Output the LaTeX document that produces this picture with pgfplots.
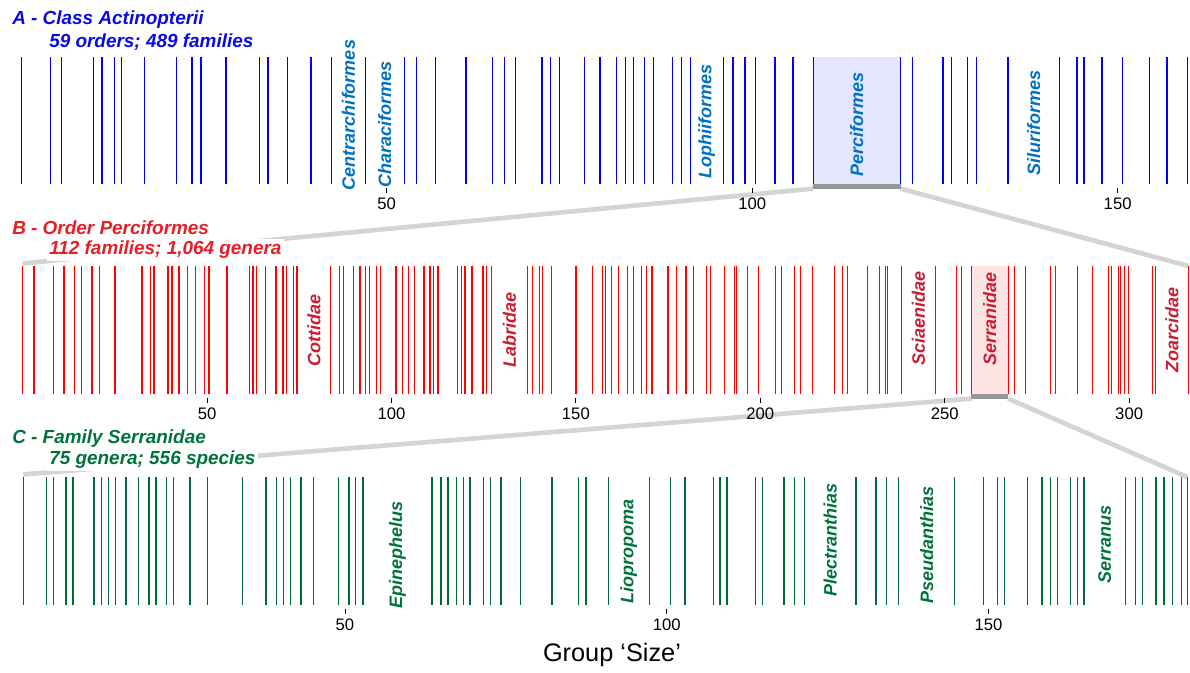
\documentclass[border=0pt]{standalone}
\usepackage{pgfplots}
\usepackage{pgfplotstable}
\pgfplotsset{compat=1.18}
\usetikzlibrary{backgrounds}
\usepackage{fontspec}
\setmainfont{Liberation Sans}

\definecolor{aline}{RGB}{0,0,255}
\definecolor{alab}{RGB}{0,112,192}
\definecolor{atitle}{RGB}{10,10,230}
\definecolor{afill}{RGB}{228,230,255}
\definecolor{bline}{RGB}{255,0,0}
\definecolor{blab}{RGB}{200,30,50}
\definecolor{btitle}{RGB}{230,30,40}
\definecolor{bfill}{RGB}{252,228,228}
\definecolor{cline}{RGB}{0,105,55}
\definecolor{clab}{RGB}{0,115,60}
\definecolor{ctitle}{RGB}{0,115,60}
\definecolor{barc}{RGB}{150,150,150}
\definecolor{conn}{RGB}{212,212,212}

\pgfplotstableread{
x y
0 1
4.04 1
5.54 1
9.86 1
11.05 1
12.79 1
13.75 1
16.89 1
21.22 1
23.37 1
24.60 1
28.02 1
32.57 1
33.76 1
36.46 1
39.64 1
42.48 1
47.07 1
52.41 1
54.05 1
56.70 1
60.85 1
64.50 1
66.14 1
67.65 1
71.24 1
72.44 1
73.61 1
77.09 1
79.18 1
81.41 1
82.64 1
83.79 1
85.24 1
86.47 1
89.12 1
90.30 1
91.53 1
96.10 1
97.37 1
99.01 1
100.48 1
103.12 1
105.58 1
108.36 1
120.31 1
121.96 1
126.10 1
127.29 1
129.48 1
130.71 1
134.99 1
142.07 1
144.43 1
145.39 1
147.85 1
150.68 1
154.38 1
156.74 1
159.58 1
}\tabA

\pgfplotstableread{
x y
0 1
3.09 1
8.43 1
11.23 1
14.02 1
15.92 1
18.82 1
20.80 1
25.05 1
32.38 1
34.73 1
35.63 1
39.43 1
40.51 1
42.41 1
44.77 1
46.83 1
49.27 1
50.54 1
55.42 1
61.58 1
62.47 1
63.48 1
65.81 1
68.71 1
70.61 1
71.61 1
73.51 1
74.40 1
83.54 1
85.87 1
87.07 1
89.67 1
91.49 1
92.92 1
94.12 1
96.01 1
97.10 1
101.25 1
103.06 1
104.69 1
106.21 1
108.84 1
110.47 1
111.36 1
112.64 1
117.98 1
118.95 1
119.96 1
121.85 1
124.84 1
125.84 1
127.09 1
136.85 1
138.21 1
140.10 1
141.03 1
143.47 1
150.05 1
154.47 1
157.29 1
158.11 1
159.73 1
161.63 1
164.07 1
165.59 1
167.87 1
169.12 1
170.66 1
175.00 1
177.36 1
179.88 1
181.86 1
185.39 1
186.47 1
190.38 1
193.09 1
193.63 1
196.61 1
199.49 1
204.20 1
205.64 1
209.35 1
210.98 1
214.13 1
220.20 1
222.26 1
223.73 1
229.15 1
232.40 1
233.84 1
234.57 1
238.26 1
247.48 1
253.17 1
254.45 1
257.24 1
267.19 1
268.82 1
271.80 1
278.77 1
279.93 1
286.09 1
289.96 1
294.31 1
295.12 1
297.02 1
297.64 1
298.73 1
299.73 1
306.32 1
307.24 1
316.08 1
}\tabB

\pgfplotstableread{
x y
0 1
3.64 1
4.72 1
6.64 1
7.72 1
10.99 1
12.12 1
13.21 1
14.36 1
15.96 1
17.94 1
19.54 1
20.62 1
22.29 1
23.38 1
25.91 1
28.66 1
34.10 1
37.72 1
39.32 1
40.41 1
41.56 1
43.16 1
45.14 1
48.96 1
50.62 1
51.66 1
52.80 1
63.52 1
64.92 1
66.01 1
67.36 1
68.45 1
69.43 1
71.49 1
72.58 1
74.25 1
77.25 1
82.17 1
86.32 1
87.46 1
90.92 1
97.30 1
100.62 1
102.84 1
107.24 1
108.29 1
109.37 1
113.83 1
114.86 1
118.23 1
119.83 1
121.39 1
129.42 1
132.53 1
134.13 1
135.99 1
144.76 1
149.27 1
151.38 1
152.53 1
156.11 1
158.33 1
159.68 1
160.77 1
162.73 1
163.82 1
164.86 1
171.28 1
172.89 1
173.98 1
176.05 1
177.29 1
178.58 1
180.04 1
180.90 1
}\tabC

\pgfplotsset{
  strip/.style={
    scale only axis, width=892.5pt, anchor=south west,
    axis line style={draw=none}, ytick=\empty,
    ymin=-0.03, ymax=1,
    tick align=outside, xtick pos=bottom,
    major tick length=3.75pt,
    tick style={black, line width=0.6pt},
    ticklabel style={font=\fontsize{12.5}{14}\selectfont},
    /pgf/number format/assume math mode=true,
    clip=false,
  },
}
\tikzset{lab/.style={rotate=90, font=\bfseries\itshape\fontsize{13.5}{15}\selectfont}}

\begin{document}
\begin{tikzpicture}[x=0.75pt,y=0.75pt]
% ---------------- A
\begin{axis}[strip, at={(0pt,363pt)}, height=98.25pt, xmin=-2.9, xmax=159.9, xtick={50,100,150}]
\addplot[fill=afill, draw=none] coordinates {(108.36,1) (120.31,1)} \closedcycle;
\addplot[ycomb, aline, line width=0.9pt, no marks] table {\tabA};
\addplot[barc, line width=3.5pt, no marks] coordinates {(108.36,-0.02) (120.31,-0.02)};
\node[lab, text=alab] at (axis cs:44.78,0.544) {Centrarchiformes};
\node[lab, text=alab] at (axis cs:49.74,0.473) {Characiformes};
\node[lab, text=alab] at (axis cs:93.8,0.489) {Lophiiformes};
\node[lab, text=alab] at (axis cs:114.3,0.473) {Perciformes};
\node[lab, text=alab] at (axis cs:138.5,0.48) {Siluriformes};
\coordinate (A1) at (axis cs:108.36,-0.035);
\coordinate (A2) at (axis cs:120.31,-0.035);
\end{axis}
% ---------------- B
\begin{axis}[strip, at={(0pt,205.5pt)}, height=99pt, xmin=-6.13, xmax=316.5, xtick={50,100,150,200,250,300}]
\addplot[fill=bfill, draw=none] coordinates {(257.24,1) (267.19,1)} \closedcycle;
\addplot[ycomb, bline, line width=0.9pt, no marks] table {\tabB};
\addplot[barc, line width=3.5pt, no marks] coordinates {(257.24,-0.02) (267.19,-0.02)};
\node[lab, text=blab] at (axis cs:78.97,0.50) {Cottidae};
\node[lab, text=blab] at (axis cs:131.97,0.50) {Labridae};
\node[lab, text=blab] at (axis cs:242.87,0.59) {Sciaenidae};
\node[lab, text=blab] at (axis cs:262.2,0.59) {Serranidae};
\node[lab, text=blab] at (axis cs:311.6,0.50) {Zoarcidae};
\coordinate (B0) at (axis cs:0,1.02);
\coordinate (B3) at (axis cs:316.08,1.0);
\coordinate (B1) at (axis cs:257.24,-0.035);
\coordinate (B2) at (axis cs:267.19,-0.035);
\end{axis}
% ---------------- C
\begin{axis}[strip, at={(0pt,47.25pt)}, height=99pt, xmin=-3.62, xmax=181.33, xtick={50,100,150}]
\addplot[ycomb, cline, line width=0.9pt, no marks] table {\tabC};
\node[lab, text=clab] at (axis cs:58.16,0.39) {Epinephelus};
\node[lab, text=clab] at (axis cs:94.11,0.415) {Liopropoma};
\node[lab, text=clab] at (axis cs:125.4,0.51) {Plectranthias};
\node[lab, text=clab] at (axis cs:140.4,0.47) {Pseudanthias};
\node[lab, text=clab] at (axis cs:168.07,0.47) {Serranus};
\coordinate (C0) at (axis cs:0,1.02);
\coordinate (C3) at (axis cs:180.9,1.0);
\end{axis}
% connectors (behind everything)
\begin{scope}[on background layer]
\draw[conn, line width=3.5pt] (A1) -- (B0);
\draw[conn, line width=3.5pt] (A2) -- (B3);
\draw[conn, line width=3.5pt] (B1) -- (C0);
\draw[conn, line width=3.5pt] (B2) -- (C3);
\end{scope}
% titles
\begin{scope}[every node/.style={anchor=base west, inner sep=1.5pt, font=\bfseries\itshape\fontsize{14.2}{16}\selectfont}]
\node[text=atitle] at (10,647) {A - Class Actinopterii};
\node[text=atitle, fill=white] at (47,624) {59 orders; 489 families};
\node[text=btitle] at (10,437) {B - Order Perciformes};
\node[text=btitle, fill=white] at (47,417) {112 families; 1,064 genera};
\node[text=ctitle] at (10,228) {C - Family Serranidae};
\node[text=ctitle, fill=white] at (47,207) {75 genera; 556 species};
\end{scope}
\node[font=\fontsize{19}{22}\selectfont] at (612,17) {Group ‘Size’};
\pgfresetboundingbox
\path (0,0) rectangle (1190,672);
\end{tikzpicture}
\end{document}
